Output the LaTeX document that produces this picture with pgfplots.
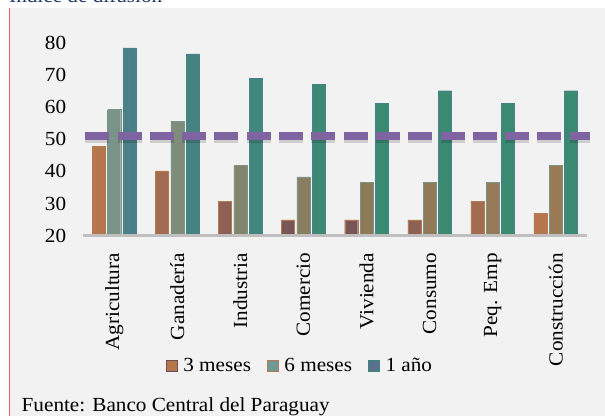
\documentclass[border=0pt]{standalone}
\usepackage{fontspec}
\setmainfont{Liberation Serif}[FakeStretch=1.06]
\usepackage{pgfplots}
\pgfplotsset{compat=1.18}

\definecolor{panel}{HTML}{F2F2F2}
\definecolor{edgered}{HTML}{E06060}
\definecolor{titleblue}{HTML}{1F3A66}
\definecolor{tresE}{HTML}{B8784E}
\definecolor{tresM}{HTML}{6E5058}
\definecolor{seisL}{HTML}{7A9488}
\definecolor{seisM}{HTML}{8C7A5A}
\definecolor{seisR}{HTML}{9A7A55}
\definecolor{anoL}{HTML}{4A8088}
\definecolor{anoM}{HTML}{3A8A72}
\definecolor{lineapur}{HTML}{8064A2}
\definecolor{basegray}{HTML}{BFBFBF}
\definecolor{leg3}{HTML}{B5764C}
\definecolor{leg6}{HTML}{6E9A96}
\definecolor{leg1}{HTML}{5A7090}

\newcommand{\chartfont}{\fontsize{20}{24}\selectfont}

\begin{document}
\begin{tikzpicture}[x=1pt,y=1pt]
\useasboundingbox (0,0) rectangle (605,416);
\fill[white] (0,0) rectangle (605,416);
\fill[panel] (9,0) rectangle (605,408);
\draw[edgered, line width=0.8pt] (9,0) -- (9,408);
\node[anchor=base west, inner sep=0pt, text=titleblue, font=\chartfont] at (9,413) {Índice de difusión};
\node[anchor=base west, inner sep=0pt, font=\chartfont] at (21.5,4.3) {Fuente: Banco Central del Paraguay};

\begin{axis}[
    at={(82.7pt,180.5pt)}, anchor=south west,
    scale only axis, width=504.6pt, height=192.2pt,
    xmin=-0.5, xmax=7.5, ymin=20, ymax=80,
    ytick={20,30,...,80},
    xtick={0,...,7},
    xticklabels={Agricultura,Ganadería,Industria,Comercio,Vivienda,Consumo,Peq. Emp,Construcción},
    /pgf/number format/assume math mode=true,
    tick label style={font=\chartfont},
    yticklabel style={xshift=-13pt},
    xticklabel style={rotate=90, anchor=east, xshift=-14pt},
    major tick length=0pt,
    axis line style={draw=none},
    clip=false,
    legend columns=-1,
    legend style={draw=none, fill=none, font=\chartfont,
        at={(0.4306,-0.679)}, anchor=center,
        /tikz/every odd column/.append style={column sep=4pt},
        /tikz/every even column/.append style={column sep=14pt}},
    legend image code/.code={\draw[#1] (0pt,-5.5pt) rectangle (11pt,5.5pt);},
]
\addplot[forget plot, ybar, bar width=13pt, bar shift=-15.3pt, draw=tresE, left color=tresE, right color=tresE, middle color=tresM]
    coordinates {(0,47.8) (1,40.2) (2,30.7) (3,24.9) (4,24.9) (5,24.9) (6,30.7) (7,26.9)};
\addplot[forget plot, ybar, bar width=13pt, bar shift=0pt, draw=seisL, left color=seisL, right color=seisR, middle color=seisM]
    coordinates {(0,59.4) (1,55.6) (2,42.0) (3,38.3) (4,36.5) (5,36.5) (6,36.5) (7,42.0)};
\addplot[forget plot, ybar, bar width=13pt, bar shift=15.3pt, draw=anoL, left color=anoL, right color=anoM, middle color=anoM]
    coordinates {(0,78.6) (1,76.7) (2,69.0) (3,67.2) (4,61.3) (5,65.2) (6,61.3) (7,65.2)};
\addplot[forget plot, sharp plot, basegray, line width=3pt]
    coordinates {(-0.5,20) (7.5,20)};
\addplot[forget plot, sharp plot, black, opacity=0.15, line width=8pt, dash pattern=on 24pt off 8.3pt, yshift=-2.5pt]
    coordinates {(-0.46,51) (7.55,51)};
\addplot[forget plot, sharp plot, lineapur, line width=7.5pt, dash pattern=on 24pt off 8.3pt]
    coordinates {(-0.46,51) (7.55,51)};
\addlegendimage{fill=leg3, draw=tresM}
\addlegendentry{3 meses}
\addlegendimage{fill=leg6, draw=tresE}
\addlegendentry{6 meses}
\addlegendimage{fill=leg1, draw=anoM}
\addlegendentry{1 año}
\end{axis}
\end{tikzpicture}
\end{document}
